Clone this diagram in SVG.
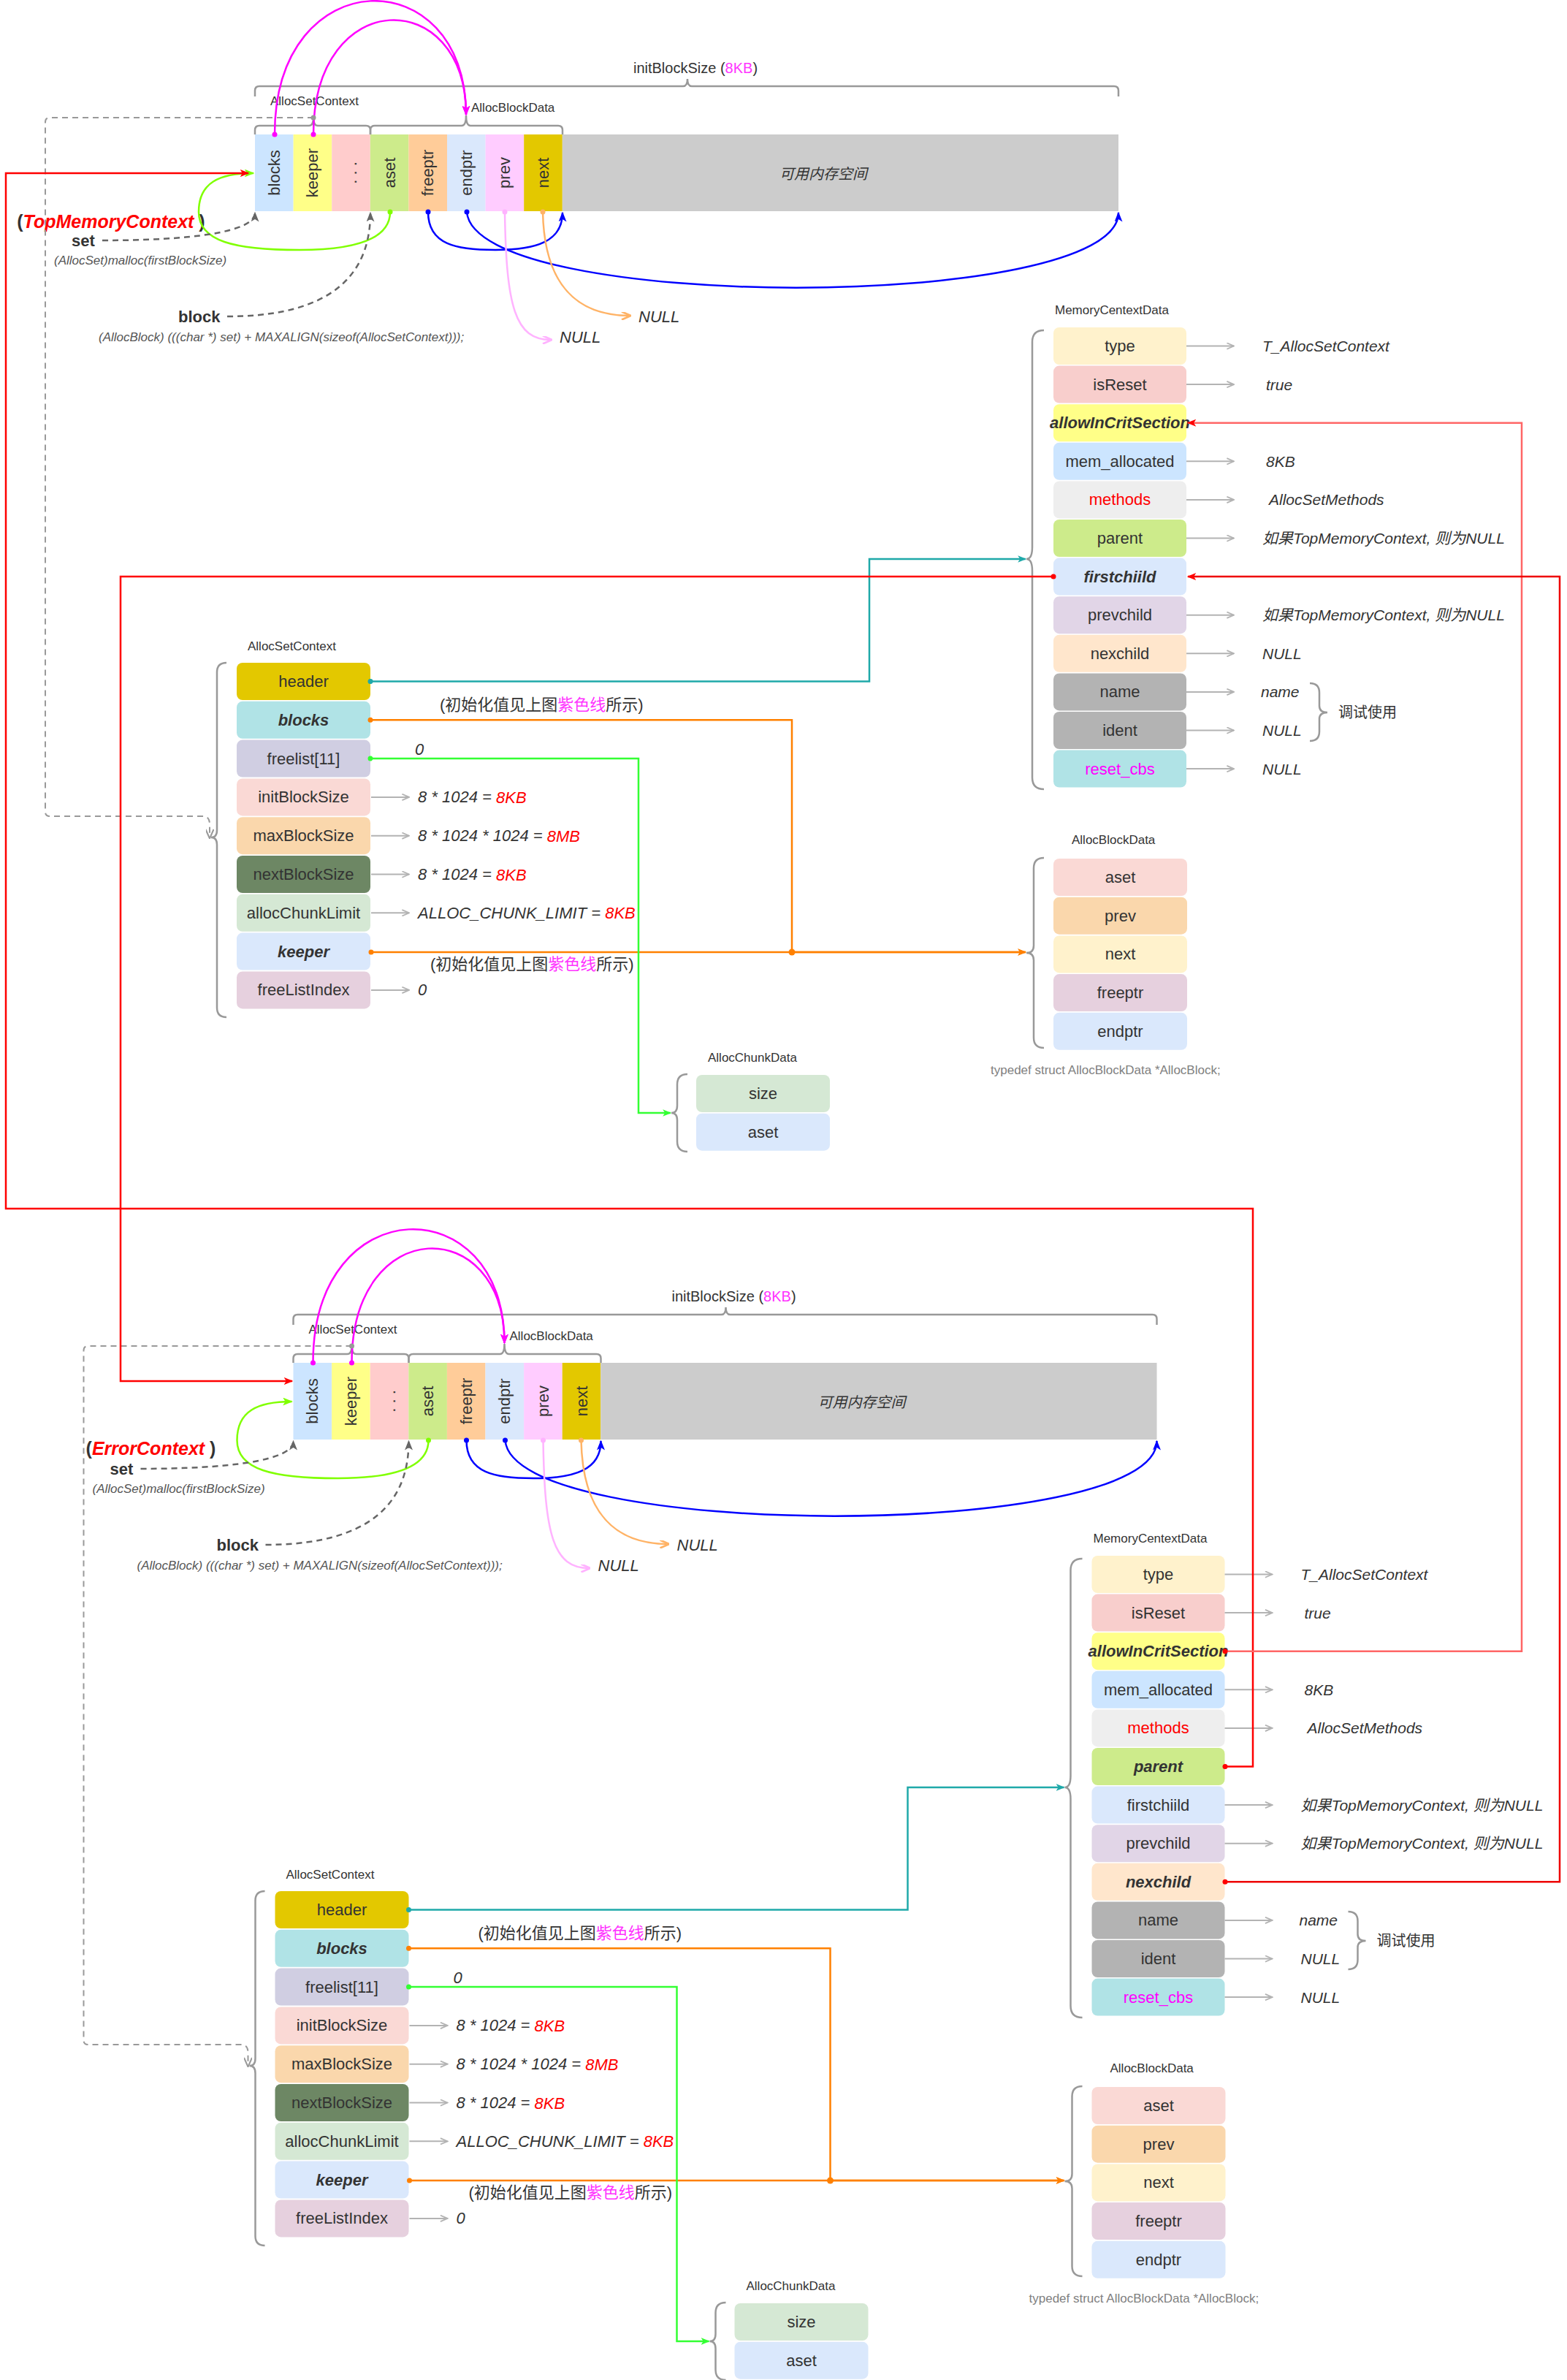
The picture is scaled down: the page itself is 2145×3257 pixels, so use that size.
<svg xmlns="http://www.w3.org/2000/svg" width="2145" height="3257" viewBox="0 0 2145 3257">
<style>
text{font-family:"Liberation Sans","Noto Sans CJK SC",sans-serif;fill:#333}
.c{font-size:22px;text-anchor:middle;dominant-baseline:central}
.bi{font-weight:bold;font-style:italic}
.lb{font-size:17px;dominant-baseline:central}
.v{font-size:21px;font-style:italic;dominant-baseline:central}
.cn{font-size:22px;dominant-baseline:central}
.br{fill:none;stroke:#999;stroke-width:2.5}
.ga{fill:none;stroke:#b3b3b3;stroke-width:2;marker-end:url(#aOpen)}
.ln{fill:none;stroke-width:2.5}
.dash{fill:none;stroke:#666;stroke-width:2.5;stroke-dasharray:8 6}
.rd{fill:#ff0000}
.mg{fill:#ff33ff}
</style>
<defs>
<marker id="aRed" viewBox="0 0 10 8" refX="9" refY="4" markerWidth="13" markerHeight="10" markerUnits="userSpaceOnUse" orient="auto"><path d="M0,0 L10,4 L0,8 L2.5,4 z" fill="#ff0000"/></marker>
<marker id="aLime" viewBox="0 0 10 8" refX="9" refY="4" markerWidth="14" markerHeight="11" markerUnits="userSpaceOnUse" orient="auto"><path d="M0,0 L10,4 L0,8 L2.5,4 z" fill="#80ff00"/></marker>
<marker id="aGreen" viewBox="0 0 10 8" refX="9" refY="4" markerWidth="12" markerHeight="10" markerUnits="userSpaceOnUse" orient="auto"><path d="M0,0 L10,4 L0,8 L2.5,4 z" fill="#33ff33"/></marker>
<marker id="aTeal" viewBox="0 0 10 8" refX="9" refY="4" markerWidth="12" markerHeight="10" markerUnits="userSpaceOnUse" orient="auto"><path d="M0,0 L10,4 L0,8 L2.5,4 z" fill="#1fa9a9"/></marker>
<marker id="aOrange" viewBox="0 0 10 8" refX="9" refY="4" markerWidth="12" markerHeight="10" markerUnits="userSpaceOnUse" orient="auto"><path d="M0,0 L10,4 L0,8 L2.5,4 z" fill="#ff8000"/></marker>
<marker id="aBlue" viewBox="0 0 10 8" refX="9" refY="4" markerWidth="14" markerHeight="11" markerUnits="userSpaceOnUse" orient="auto"><path d="M0,0 L10,4 L0,8 L2.5,4 z" fill="#0000ff"/></marker>
<marker id="aMag" viewBox="0 0 10 8" refX="9" refY="4" markerWidth="14" markerHeight="11" markerUnits="userSpaceOnUse" orient="auto"><path d="M0,0 L10,4 L0,8 L2.5,4 z" fill="#ff00ff"/></marker>
<marker id="aPink" viewBox="0 0 10 8" refX="9" refY="4" markerWidth="14" markerHeight="11" markerUnits="userSpaceOnUse" orient="auto"><path d="M1,0 L10,4 L1,8" fill="none" stroke="#ffb3ff" stroke-width="2"/></marker>
<marker id="aLOrange" viewBox="0 0 10 8" refX="9" refY="4" markerWidth="14" markerHeight="11" markerUnits="userSpaceOnUse" orient="auto"><path d="M1,0 L10,4 L1,8" fill="none" stroke="#ffb366" stroke-width="2"/></marker>
<marker id="aGray" viewBox="0 0 10 8" refX="9" refY="4" markerWidth="14" markerHeight="11" markerUnits="userSpaceOnUse" orient="auto"><path d="M0,0 L10,4 L0,8 L2.5,4 z" fill="#666"/></marker>
<marker id="aGrayO" viewBox="0 0 10 8" refX="9" refY="4" markerWidth="14" markerHeight="11" markerUnits="userSpaceOnUse" orient="auto"><path d="M1,0 L10,4 L1,8" fill="none" stroke="#999" stroke-width="1.5"/></marker>
<marker id="aOpen" viewBox="0 0 10 8" refX="9" refY="4" markerWidth="12" markerHeight="10" markerUnits="userSpaceOnUse" orient="auto"><path d="M1,0.5 L9,4 L1,7.5" fill="none" stroke="#b3b3b3" stroke-width="1.5"/></marker>
<marker id="dRed" viewBox="0 0 8 8" refX="4" refY="4" markerWidth="8" markerHeight="8" markerUnits="userSpaceOnUse"><circle cx="4" cy="4" r="3.5" fill="#ff0000"/></marker>
<marker id="dTeal" viewBox="0 0 8 8" refX="4" refY="4" markerWidth="8" markerHeight="8" markerUnits="userSpaceOnUse"><circle cx="4" cy="4" r="3.5" fill="#1fa9a9"/></marker>
<marker id="dOrange" viewBox="0 0 8 8" refX="4" refY="4" markerWidth="8" markerHeight="8" markerUnits="userSpaceOnUse"><circle cx="4" cy="4" r="3.5" fill="#ff8000"/></marker>
<marker id="dGreen" viewBox="0 0 8 8" refX="4" refY="4" markerWidth="8" markerHeight="8" markerUnits="userSpaceOnUse"><circle cx="4" cy="4" r="3.5" fill="#33ff33"/></marker>
<marker id="dLime" viewBox="0 0 8 8" refX="4" refY="4" markerWidth="8" markerHeight="8" markerUnits="userSpaceOnUse"><circle cx="4" cy="4" r="3.5" fill="#80ff00"/></marker>
<marker id="dBlue" viewBox="0 0 8 8" refX="4" refY="4" markerWidth="8" markerHeight="8" markerUnits="userSpaceOnUse"><circle cx="4" cy="4" r="3.5" fill="#0000ff"/></marker>
<marker id="dMag" viewBox="0 0 8 8" refX="4" refY="4" markerWidth="8" markerHeight="8" markerUnits="userSpaceOnUse"><circle cx="4" cy="4" r="3.5" fill="#ff00ff"/></marker>
<marker id="dPink" viewBox="0 0 8 8" refX="4" refY="4" markerWidth="8" markerHeight="8" markerUnits="userSpaceOnUse"><circle cx="4" cy="4" r="3.5" fill="#ffb3ff"/></marker>
<marker id="dLOrange" viewBox="0 0 8 8" refX="4" refY="4" markerWidth="8" markerHeight="8" markerUnits="userSpaceOnUse"><circle cx="4" cy="4" r="3.5" fill="#ffb366"/></marker>
<marker id="dGray" viewBox="0 0 8 8" refX="4" refY="4" markerWidth="8" markerHeight="8" markerUnits="userSpaceOnUse"><circle cx="4" cy="4" r="3.5" fill="#999"/></marker>
</defs>

<!-- ================= TOP: TopMemoryContext ================= -->
<g id="top">
<g id="top-labels">
<text x="152" y="303" style="font-size:25px;font-weight:bold;dominant-baseline:central;text-anchor:middle">(<tspan class="rd" font-style="italic">TopMemoryContext</tspan> )</text>
<text x="98" y="329" style="font-size:22px;font-weight:bold;dominant-baseline:central">set</text>
<text x="74" y="356" style="font-size:17px;font-style:italic;fill:#555;dominant-baseline:central">(AllocSet)malloc(firstBlockSize)</text>
<text x="244" y="433" style="font-size:22px;font-weight:bold;dominant-baseline:central">block</text>
<text x="135" y="461" style="font-size:17px;font-style:italic;fill:#555;dominant-baseline:central">(AllocBlock) (((char *) set) + MAXALIGN(sizeof(AllocSetContext)));</text>
<text x="874" y="433" class="v" style="font-size:22px">NULL</text>
<text x="766" y="461" class="v" style="font-size:22px">NULL</text>
</g>
<g id="top-braces">
<path class="br" d="M349 132 L349 124 Q349 118 355 118 L935 118 Q941 118 941 108 Q941 118 947 118 L1525 118 Q1531 118 1531 124 L1531 132"/>
<text x="952" y="93" style="font-size:20px;text-anchor:middle;dominant-baseline:central">initBlockSize (<tspan class="mg">8KB</tspan>)</text>
<path class="br" d="M349 184 L349 178 Q349 172 355 172 L423 172 Q429 172 429 161 Q429 172 435 172 L501 172 Q507 172 507 178 L507 184"/>
<text x="370" y="138" class="lb">AllocSetContext</text>
<path class="br" d="M507 184 L507 178 Q507 172 513 172 L632 172 Q638 172 638 158 Q638 172 644 172 L764 172 Q770 172 770 178 L770 184"/>
<text x="645" y="147" class="lb">AllocBlockData</text>
</g>
<g id="top-cell-blocks"><rect x="349" y="184" width="52.6" height="105" fill="#cce5ff"/><text class="c" transform="translate(375.3 236.5) rotate(-90)">blocks</text></g>
<g id="top-cell-keeper"><rect x="401.6" y="184" width="52.6" height="105" fill="#ffff88"/><text class="c" transform="translate(427.9 236.5) rotate(-90)">keeper</text></g>
<g id="top-cell-dots"><rect x="454.2" y="184" width="52.6" height="105" fill="#ffcccc"/><text class="c" transform="translate(480.5 236.5) rotate(-90)">. . .</text></g>
<g id="top-cell-aset"><rect x="506.8" y="184" width="52.6" height="105" fill="#cdeb8b"/><text class="c" transform="translate(533.1 236.5) rotate(-90)">aset</text></g>
<g id="top-cell-freeptr"><rect x="559.4" y="184" width="52.6" height="105" fill="#ffcc99"/><text class="c" transform="translate(585.7 236.5) rotate(-90)">freeptr</text></g>
<g id="top-cell-endptr"><rect x="612" y="184" width="52.6" height="105" fill="#dae8fc"/><text class="c" transform="translate(638.3 236.5) rotate(-90)">endptr</text></g>
<g id="top-cell-prev"><rect x="664.6" y="184" width="52.6" height="105" fill="#ffccff"/><text class="c" transform="translate(690.9 236.5) rotate(-90)">prev</text></g>
<g id="top-cell-next"><rect x="717.2" y="184" width="52.6" height="105" fill="#e3c800"/><text class="c" transform="translate(743.5 236.5) rotate(-90)">next</text></g>
<g id="top-cell-free"><rect x="769.8" y="184" width="761.2" height="105" fill="#cccccc"/><text x="1127" y="238" style="font-size:20px;font-style:italic;text-anchor:middle;dominant-baseline:central">可用内存空间</text></g>

<g id="top-mcd">
<text x="1444" y="424" class="lb">MemoryCentextData</text>
<path class="br" d="M1429 452 Q1413 452 1413 468 L1413 749 Q1413 765 1405 765 Q1413 765 1413 781 L1413 1064 Q1413 1080 1429 1080"/>
<g id="top-mcd-type"><rect x="1442" y="448" width="182" height="51" rx="8" fill="#fff2cc"/><text x="1533" y="473.5" class="c">type</text></g>
<g id="top-mcd-isReset"><rect x="1442" y="500.6" width="182" height="51" rx="8" fill="#f8cecc"/><text x="1533" y="526.1" class="c">isReset</text></g>
<g id="top-mcd-allow"><rect x="1442" y="553.2" width="182" height="51" rx="8" fill="#ffff88"/><text x="1533" y="578.7" class="c bi">allowInCritSection</text></g>
<g id="top-mcd-mem"><rect x="1442" y="605.8" width="182" height="51" rx="8" fill="#cce5ff"/><text x="1533" y="631.3" class="c">mem_allocated</text></g>
<g id="top-mcd-methods"><rect x="1442" y="658.4" width="182" height="51" rx="8" fill="#eeeeee"/><text x="1533" y="683.9" class="c rd">methods</text></g>
<g id="top-mcd-parent"><rect x="1442" y="711" width="182" height="51" rx="8" fill="#cdeb8b"/><text x="1533" y="736.5" class="c">parent</text></g>
<g id="top-mcd-firstchild"><rect x="1442" y="763.6" width="182" height="51" rx="8" fill="#dae8fc"/><text x="1533" y="789.1" class="c bi">firstchiild</text></g>
<g id="top-mcd-prevchild"><rect x="1442" y="816.2" width="182" height="51" rx="8" fill="#e1d5e7"/><text x="1533" y="841.7" class="c">prevchild</text></g>
<g id="top-mcd-nexchild"><rect x="1442" y="868.8" width="182" height="51" rx="8" fill="#ffe6cc"/><text x="1533" y="894.3" class="c">nexchild</text></g>
<g id="top-mcd-name"><rect x="1442" y="921.4" width="182" height="51" rx="8" fill="#b3b3b3"/><text x="1533" y="946.9" class="c">name</text></g>
<g id="top-mcd-ident"><rect x="1442" y="974" width="182" height="51" rx="8" fill="#b3b3b3"/><text x="1533" y="999.5" class="c">ident</text></g>
<g id="top-mcd-reset"><rect x="1442" y="1026.6" width="182" height="51" rx="8" fill="#b0e3e6"/><text x="1533" y="1052.1" class="c" style="fill:#ff00ff">reset_cbs</text></g>
<g id="top-mcd-values">
<text x="1728" y="473.5" class="v">T_AllocSetContext</text>
<text x="1733" y="526.1" class="v">true</text>
<text x="1733" y="631.3" class="v">8KB</text>
<text x="1737" y="683.9" class="v">AllocSetMethods</text>
<text x="1728" y="736.5" class="v">如果TopMemoryContext, 则为NULL</text>
<text x="1728" y="841.7" class="v">如果TopMemoryContext, 则为NULL</text>
<text x="1728" y="894.3" class="v">NULL</text>
<text x="1726" y="946.9" class="v">name</text>
<text x="1728" y="999.5" class="v">NULL</text>
<text x="1728" y="1052.1" class="v">NULL</text>
<path class="br" d="M1793 935 Q1806 935 1806 948 L1806 966 Q1806 975 1817 975 Q1806 975 1806 984 L1806 1001 Q1806 1014 1793 1014"/>
<text x="1832" y="975" class="cn" style="font-size:20px">调试使用</text>
</g>
</g>

<g id="top-asc">
<text x="339" y="884" class="lb">AllocSetContext</text>
<path class="br" d="M310 907 Q297 907 297 920 L297 1136 Q297 1146 289 1146 Q297 1146 297 1156 L297 1379 Q297 1392 310 1392"/>
<g id="top-asc-header"><rect x="324" y="907" width="183" height="51" rx="8" fill="#e3c800"/><text x="415.5" y="932.5" class="c">header</text></g>
<g id="top-asc-blocks"><rect x="324" y="959.8" width="183" height="51" rx="8" fill="#b0e3e6"/><text x="415.5" y="985.3" class="c bi">blocks</text></g>
<g id="top-asc-freelist"><rect x="324" y="1012.6" width="183" height="51" rx="8" fill="#d0cee2"/><text x="415.5" y="1038.1" class="c">freelist[11]</text></g>
<g id="top-asc-init"><rect x="324" y="1065.4" width="183" height="51" rx="8" fill="#fad9d5"/><text x="415.5" y="1090.9" class="c">initBlockSize</text></g>
<g id="top-asc-max"><rect x="324" y="1118.2" width="183" height="51" rx="8" fill="#fad7ac"/><text x="415.5" y="1143.7" class="c">maxBlockSize</text></g>
<g id="top-asc-next"><rect x="324" y="1171" width="183" height="51" rx="8" fill="#6d8764"/><text x="415.5" y="1196.5" class="c">nextBlockSize</text></g>
<g id="top-asc-chunk"><rect x="324" y="1223.8" width="183" height="51" rx="8" fill="#d5e8d4"/><text x="415.5" y="1249.3" class="c">allocChunkLimit</text></g>
<g id="top-asc-keeper"><rect x="324" y="1276.6" width="183" height="51" rx="8" fill="#dae8fc"/><text x="415.5" y="1302.1" class="c bi">keeper</text></g>
<g id="top-asc-fli"><rect x="324" y="1329.4" width="183" height="51" rx="8" fill="#e6d0de"/><text x="415.5" y="1354.9" class="c">freeListIndex</text></g>
<g id="top-asc-values">
<text x="602" y="964" class="cn">(初始化值见上图<tspan class="mg">紫色线</tspan>所示)</text>
<text x="568" y="1025" class="v" style="font-size:22px">0</text>
<text x="572" y="1090.9" class="v" style="font-size:22px">8 * 1024 = <tspan class="rd">8KB</tspan></text>
<text x="572" y="1143.7" class="v" style="font-size:22px">8 * 1024 * 1024 = <tspan class="rd">8MB</tspan></text>
<text x="572" y="1196.5" class="v" style="font-size:22px">8 * 1024 = <tspan class="rd">8KB</tspan></text>
<text x="572" y="1249.3" class="v" style="font-size:22px">ALLOC_CHUNK_LIMIT = <tspan class="rd">8KB</tspan></text>
<text x="589" y="1319" class="cn">(初始化值见上图<tspan class="mg">紫色线</tspan>所示)</text>
<text x="572" y="1354.9" class="v" style="font-size:22px">0</text>
</g>
</g>

<g id="top-abd">
<text x="1467" y="1149" class="lb">AllocBlockData</text>
<path class="br" d="M1429 1174 Q1415 1174 1415 1188 L1415 1294 Q1415 1304 1405 1304 Q1415 1304 1415 1314 L1415 1420 Q1415 1434 1429 1434"/>
<g id="top-abd-aset"><rect x="1442" y="1175" width="183" height="51" rx="8" fill="#fad9d5"/><text x="1533.5" y="1200.5" class="c">aset</text></g>
<g id="top-abd-prev"><rect x="1442" y="1227.7" width="183" height="51" rx="8" fill="#fad7ac"/><text x="1533.5" y="1253.2" class="c">prev</text></g>
<g id="top-abd-next"><rect x="1442" y="1280.4" width="183" height="51" rx="8" fill="#fff2cc"/><text x="1533.5" y="1305.9" class="c">next</text></g>
<g id="top-abd-freeptr"><rect x="1442" y="1333.1" width="183" height="51" rx="8" fill="#e6d0de"/><text x="1533.5" y="1358.6" class="c">freeptr</text></g>
<g id="top-abd-endptr"><rect x="1442" y="1385.8" width="183" height="51" rx="8" fill="#dae8fc"/><text x="1533.5" y="1411.3" class="c">endptr</text></g>
<text x="1356" y="1464" class="lb" style="fill:#808080">typedef struct AllocBlockData *AllocBlock;</text>
</g>

<g id="top-acd">
<text x="969" y="1447" class="lb">AllocChunkData</text>
<path class="br" d="M941 1470 Q927 1470 927 1484 L927 1513 Q927 1523 919 1523 Q927 1523 927 1533 L927 1562 Q927 1576 941 1576"/>
<g id="top-acd-size"><rect x="953" y="1471" width="183" height="51" rx="8" fill="#d5e8d4"/><text x="1044.5" y="1496.5" class="c">size</text></g>
<g id="top-acd-aset"><rect x="953" y="1523.7" width="183" height="51" rx="8" fill="#dae8fc"/><text x="1044.5" y="1549.2" class="c">aset</text></g>
</g>
</g>

<g id="connectors-top">
<path class="ln" stroke="#ff00ff" d="M376 184 C376 -55 638 -55 638 157" marker-start="url(#dMag)" marker-end="url(#aMag)"/>
<path class="ln" stroke="#ff00ff" d="M429 184 C429 -20 638 -20 638 157" marker-start="url(#dMag)" marker-end="url(#aMag)"/>
<path class="ln" stroke="#80ff00" d="M534 290 C534 330 480 342 410 342 C320 342 272 330 272 290 C272 250 300 237 347 237" marker-start="url(#dLime)" marker-end="url(#aLime)"/>
<path class="ln" stroke="#0000ff" d="M586 290 C586 335 625 342 678 342 C735 342 770 330 770 291" marker-start="url(#dBlue)" marker-end="url(#aBlue)"/>
<path class="ln" stroke="#0000ff" d="M639 290 C650 428 1531 428 1531 291" marker-start="url(#dBlue)" marker-end="url(#aBlue)"/>
<path class="ln" stroke="#ffb3ff" d="M691 290 C693 420 705 465 754 465" marker-start="url(#dPink)" marker-end="url(#aPink)"/>
<path class="ln" stroke="#ffb366" d="M743 290 C745 390 790 432 862 432" marker-start="url(#dLOrange)" marker-end="url(#aLOrange)"/>
<path class="dash" d="M140 329 C260 329 349 318 349 291" marker-end="url(#aGray)"/>
<path class="dash" d="M311 433 C420 433 507 400 507 291" marker-end="url(#aGray)"/>
<path class="dash" style="stroke:#999;stroke-width:2" d="M429 161 L68 161 Q62 161 62 167 L62 1111 Q62 1117 68 1117 L278 1117 Q287 1117 287 1128 L287 1146" marker-start="url(#dGray)" marker-end="url(#aGrayO)"/>
<path class="ln" stroke="#1fa9a9" stroke-width="2" d="M507 932.5 L1190 932.5 L1190 765 L1404 765" marker-start="url(#dTeal)" marker-end="url(#aTeal)"/>
<path class="ln" stroke="#ff8000" stroke-width="2" d="M507 985.3 L1084 985.3 L1084 1303 L1404 1303" marker-start="url(#dOrange)" marker-end="url(#aOrange)"/>
<path class="ln" stroke="#ff8000" stroke-width="2" d="M508 1303 L1404 1303" marker-start="url(#dOrange)" marker-end="url(#aOrange)"/>
<circle cx="1084" cy="1303" r="4.5" fill="#ff8000"/>
<path class="ln" stroke="#33ff33" stroke-width="2" d="M507 1038.1 L874 1038.1 L874 1523 L918 1523" marker-start="url(#dGreen)" marker-end="url(#aGreen)"/>
<path class="ga" d="M1624 473.5 L1689 473.5"/>
<path class="ga" d="M1624 526.1 L1689 526.1"/>
<path class="ga" d="M1624 631.3 L1689 631.3"/>
<path class="ga" d="M1624 683.9 L1689 683.9"/>
<path class="ga" d="M1624 736.5 L1689 736.5"/>
<path class="ga" d="M1624 841.7 L1689 841.7"/>
<path class="ga" d="M1624 894.3 L1689 894.3"/>
<path class="ga" d="M1624 946.9 L1689 946.9"/>
<path class="ga" d="M1624 999.5 L1689 999.5"/>
<path class="ga" d="M1624 1052.1 L1689 1052.1"/>
<path class="ga" d="M508 1090.9 L560 1090.9"/>
<path class="ga" d="M508 1143.7 L560 1143.7"/>
<path class="ga" d="M508 1196.5 L560 1196.5"/>
<path class="ga" d="M508 1249.3 L560 1249.3"/>
<path class="ga" d="M508 1354.9 L560 1354.9"/>
</g>

<!-- ================= BOTTOM: ErrorContext ================= -->
<g id="bottom" transform="translate(52.5 1681)">
<g id="bot-labels">
<text x="154" y="301" style="font-size:25px;font-weight:bold;dominant-baseline:central;text-anchor:middle">(<tspan class="rd" font-style="italic">ErrorContext</tspan> )</text>
<text x="98" y="329" style="font-size:22px;font-weight:bold;dominant-baseline:central">set</text>
<text x="74" y="356" style="font-size:17px;font-style:italic;fill:#555;dominant-baseline:central">(AllocSet)malloc(firstBlockSize)</text>
<text x="244" y="433" style="font-size:22px;font-weight:bold;dominant-baseline:central">block</text>
<text x="135" y="461" style="font-size:17px;font-style:italic;fill:#555;dominant-baseline:central">(AllocBlock) (((char *) set) + MAXALIGN(sizeof(AllocSetContext)));</text>
<text x="874" y="433" class="v" style="font-size:22px">NULL</text>
<text x="766" y="461" class="v" style="font-size:22px">NULL</text>
</g>
<g id="bot-braces">
<path class="br" d="M349 132 L349 124 Q349 118 355 118 L935 118 Q941 118 941 108 Q941 118 947 118 L1525 118 Q1531 118 1531 124 L1531 132"/>
<text x="952" y="93" style="font-size:20px;text-anchor:middle;dominant-baseline:central">initBlockSize (<tspan class="mg">8KB</tspan>)</text>
<path class="br" d="M349 184 L349 178 Q349 172 355 172 L423 172 Q429 172 429 161 Q429 172 435 172 L501 172 Q507 172 507 178 L507 184"/>
<text x="370" y="138" class="lb">AllocSetContext</text>
<path class="br" d="M507 184 L507 178 Q507 172 513 172 L632 172 Q638 172 638 158 Q638 172 644 172 L764 172 Q770 172 770 178 L770 184"/>
<text x="645" y="147" class="lb">AllocBlockData</text>
</g>
<g id="bot-cell-blocks"><rect x="349" y="184" width="52.6" height="105" fill="#cce5ff"/><text class="c" transform="translate(375.3 236.5) rotate(-90)">blocks</text></g>
<g id="bot-cell-keeper"><rect x="401.6" y="184" width="52.6" height="105" fill="#ffff88"/><text class="c" transform="translate(427.9 236.5) rotate(-90)">keeper</text></g>
<g id="bot-cell-dots"><rect x="454.2" y="184" width="52.6" height="105" fill="#ffcccc"/><text class="c" transform="translate(480.5 236.5) rotate(-90)">. . .</text></g>
<g id="bot-cell-aset"><rect x="506.8" y="184" width="52.6" height="105" fill="#cdeb8b"/><text class="c" transform="translate(533.1 236.5) rotate(-90)">aset</text></g>
<g id="bot-cell-freeptr"><rect x="559.4" y="184" width="52.6" height="105" fill="#ffcc99"/><text class="c" transform="translate(585.7 236.5) rotate(-90)">freeptr</text></g>
<g id="bot-cell-endptr"><rect x="612" y="184" width="52.6" height="105" fill="#dae8fc"/><text class="c" transform="translate(638.3 236.5) rotate(-90)">endptr</text></g>
<g id="bot-cell-prev"><rect x="664.6" y="184" width="52.6" height="105" fill="#ffccff"/><text class="c" transform="translate(690.9 236.5) rotate(-90)">prev</text></g>
<g id="bot-cell-next"><rect x="717.2" y="184" width="52.6" height="105" fill="#e3c800"/><text class="c" transform="translate(743.5 236.5) rotate(-90)">next</text></g>
<g id="bot-cell-free"><rect x="769.8" y="184" width="761.2" height="105" fill="#cccccc"/><text x="1127" y="238" style="font-size:20px;font-style:italic;text-anchor:middle;dominant-baseline:central">可用内存空间</text></g>

<g id="bot-mcd">
<text x="1444" y="424" class="lb">MemoryCentextData</text>
<path class="br" d="M1429 452 Q1413 452 1413 468 L1413 749 Q1413 765 1405 765 Q1413 765 1413 781 L1413 1064 Q1413 1080 1429 1080"/>
<g id="bot-mcd-type"><rect x="1442" y="448" width="182" height="51" rx="8" fill="#fff2cc"/><text x="1533" y="473.5" class="c">type</text></g>
<g id="bot-mcd-isReset"><rect x="1442" y="500.6" width="182" height="51" rx="8" fill="#f8cecc"/><text x="1533" y="526.1" class="c">isReset</text></g>
<g id="bot-mcd-allow"><rect x="1442" y="553.2" width="182" height="51" rx="8" fill="#ffff88"/><text x="1533" y="578.7" class="c bi">allowInCritSection</text></g>
<g id="bot-mcd-mem"><rect x="1442" y="605.8" width="182" height="51" rx="8" fill="#cce5ff"/><text x="1533" y="631.3" class="c">mem_allocated</text></g>
<g id="bot-mcd-methods"><rect x="1442" y="658.4" width="182" height="51" rx="8" fill="#eeeeee"/><text x="1533" y="683.9" class="c rd">methods</text></g>
<g id="bot-mcd-parent"><rect x="1442" y="711" width="182" height="51" rx="8" fill="#cdeb8b"/><text x="1533" y="736.5" class="c bi">parent</text></g>
<g id="bot-mcd-firstchild"><rect x="1442" y="763.6" width="182" height="51" rx="8" fill="#dae8fc"/><text x="1533" y="789.1" class="c">firstchiild</text></g>
<g id="bot-mcd-prevchild"><rect x="1442" y="816.2" width="182" height="51" rx="8" fill="#e1d5e7"/><text x="1533" y="841.7" class="c">prevchild</text></g>
<g id="bot-mcd-nexchild"><rect x="1442" y="868.8" width="182" height="51" rx="8" fill="#ffe6cc"/><text x="1533" y="894.3" class="c bi">nexchild</text></g>
<g id="bot-mcd-name"><rect x="1442" y="921.4" width="182" height="51" rx="8" fill="#b3b3b3"/><text x="1533" y="946.9" class="c">name</text></g>
<g id="bot-mcd-ident"><rect x="1442" y="974" width="182" height="51" rx="8" fill="#b3b3b3"/><text x="1533" y="999.5" class="c">ident</text></g>
<g id="bot-mcd-reset"><rect x="1442" y="1026.6" width="182" height="51" rx="8" fill="#b0e3e6"/><text x="1533" y="1052.1" class="c" style="fill:#ff00ff">reset_cbs</text></g>
<g id="bot-mcd-values">
<text x="1728" y="473.5" class="v">T_AllocSetContext</text>
<text x="1733" y="526.1" class="v">true</text>
<text x="1733" y="631.3" class="v">8KB</text>
<text x="1737" y="683.9" class="v">AllocSetMethods</text>
<text x="1728" y="789.1" class="v">如果TopMemoryContext, 则为NULL</text>
<text x="1728" y="841.7" class="v">如果TopMemoryContext, 则为NULL</text>
<text x="1726" y="946.9" class="v">name</text>
<text x="1728" y="999.5" class="v">NULL</text>
<text x="1728" y="1052.1" class="v">NULL</text>
<path class="br" d="M1793 935 Q1806 935 1806 948 L1806 966 Q1806 975 1817 975 Q1806 975 1806 984 L1806 1001 Q1806 1014 1793 1014"/>
<text x="1832" y="975" class="cn" style="font-size:20px">调试使用</text>
</g>
</g>

<g id="bot-asc">
<text x="339" y="884" class="lb">AllocSetContext</text>
<path class="br" d="M310 907 Q297 907 297 920 L297 1136 Q297 1146 289 1146 Q297 1146 297 1156 L297 1379 Q297 1392 310 1392"/>
<g id="bot-asc-header"><rect x="324" y="907" width="183" height="51" rx="8" fill="#e3c800"/><text x="415.5" y="932.5" class="c">header</text></g>
<g id="bot-asc-blocks"><rect x="324" y="959.8" width="183" height="51" rx="8" fill="#b0e3e6"/><text x="415.5" y="985.3" class="c bi">blocks</text></g>
<g id="bot-asc-freelist"><rect x="324" y="1012.6" width="183" height="51" rx="8" fill="#d0cee2"/><text x="415.5" y="1038.1" class="c">freelist[11]</text></g>
<g id="bot-asc-init"><rect x="324" y="1065.4" width="183" height="51" rx="8" fill="#fad9d5"/><text x="415.5" y="1090.9" class="c">initBlockSize</text></g>
<g id="bot-asc-max"><rect x="324" y="1118.2" width="183" height="51" rx="8" fill="#fad7ac"/><text x="415.5" y="1143.7" class="c">maxBlockSize</text></g>
<g id="bot-asc-next"><rect x="324" y="1171" width="183" height="51" rx="8" fill="#6d8764"/><text x="415.5" y="1196.5" class="c">nextBlockSize</text></g>
<g id="bot-asc-chunk"><rect x="324" y="1223.8" width="183" height="51" rx="8" fill="#d5e8d4"/><text x="415.5" y="1249.3" class="c">allocChunkLimit</text></g>
<g id="bot-asc-keeper"><rect x="324" y="1276.6" width="183" height="51" rx="8" fill="#dae8fc"/><text x="415.5" y="1302.1" class="c bi">keeper</text></g>
<g id="bot-asc-fli"><rect x="324" y="1329.4" width="183" height="51" rx="8" fill="#e6d0de"/><text x="415.5" y="1354.9" class="c">freeListIndex</text></g>
<g id="bot-asc-values">
<text x="602" y="964" class="cn">(初始化值见上图<tspan class="mg">紫色线</tspan>所示)</text>
<text x="568" y="1025" class="v" style="font-size:22px">0</text>
<text x="572" y="1090.9" class="v" style="font-size:22px">8 * 1024 = <tspan class="rd">8KB</tspan></text>
<text x="572" y="1143.7" class="v" style="font-size:22px">8 * 1024 * 1024 = <tspan class="rd">8MB</tspan></text>
<text x="572" y="1196.5" class="v" style="font-size:22px">8 * 1024 = <tspan class="rd">8KB</tspan></text>
<text x="572" y="1249.3" class="v" style="font-size:22px">ALLOC_CHUNK_LIMIT = <tspan class="rd">8KB</tspan></text>
<text x="589" y="1319" class="cn">(初始化值见上图<tspan class="mg">紫色线</tspan>所示)</text>
<text x="572" y="1354.9" class="v" style="font-size:22px">0</text>
</g>
</g>

<g id="bot-abd">
<text x="1467" y="1149" class="lb">AllocBlockData</text>
<path class="br" d="M1429 1174 Q1415 1174 1415 1188 L1415 1294 Q1415 1304 1405 1304 Q1415 1304 1415 1314 L1415 1420 Q1415 1434 1429 1434"/>
<g id="bot-abd-aset"><rect x="1442" y="1175" width="183" height="51" rx="8" fill="#fad9d5"/><text x="1533.5" y="1200.5" class="c">aset</text></g>
<g id="bot-abd-prev"><rect x="1442" y="1227.7" width="183" height="51" rx="8" fill="#fad7ac"/><text x="1533.5" y="1253.2" class="c">prev</text></g>
<g id="bot-abd-next"><rect x="1442" y="1280.4" width="183" height="51" rx="8" fill="#fff2cc"/><text x="1533.5" y="1305.9" class="c">next</text></g>
<g id="bot-abd-freeptr"><rect x="1442" y="1333.1" width="183" height="51" rx="8" fill="#e6d0de"/><text x="1533.5" y="1358.6" class="c">freeptr</text></g>
<g id="bot-abd-endptr"><rect x="1442" y="1385.8" width="183" height="51" rx="8" fill="#dae8fc"/><text x="1533.5" y="1411.3" class="c">endptr</text></g>
<text x="1356" y="1464" class="lb" style="fill:#808080">typedef struct AllocBlockData *AllocBlock;</text>
</g>

<g id="bot-acd">
<text x="969" y="1447" class="lb">AllocChunkData</text>
<path class="br" d="M941 1470 Q927 1470 927 1484 L927 1513 Q927 1523 919 1523 Q927 1523 927 1533 L927 1562 Q927 1576 941 1576"/>
<g id="bot-acd-size"><rect x="953" y="1471" width="183" height="51" rx="8" fill="#d5e8d4"/><text x="1044.5" y="1496.5" class="c">size</text></g>
<g id="bot-acd-aset"><rect x="953" y="1523.7" width="183" height="51" rx="8" fill="#dae8fc"/><text x="1044.5" y="1549.2" class="c">aset</text></g>
</g>
</g>

<g id="connectors-bottom" transform="translate(52.5 1681)">
<path class="ln" stroke="#ff00ff" d="M376 184 C376 -55 638 -55 638 157" marker-start="url(#dMag)" marker-end="url(#aMag)"/>
<path class="ln" stroke="#ff00ff" d="M429 184 C429 -20 638 -20 638 157" marker-start="url(#dMag)" marker-end="url(#aMag)"/>
<path class="ln" stroke="#80ff00" d="M534 290 C534 330 480 342 410 342 C320 342 272 330 272 290 C272 250 300 237 347 237" marker-start="url(#dLime)" marker-end="url(#aLime)"/>
<path class="ln" stroke="#0000ff" d="M586 290 C586 335 625 342 678 342 C735 342 770 330 770 291" marker-start="url(#dBlue)" marker-end="url(#aBlue)"/>
<path class="ln" stroke="#0000ff" d="M639 290 C650 428 1531 428 1531 291" marker-start="url(#dBlue)" marker-end="url(#aBlue)"/>
<path class="ln" stroke="#ffb3ff" d="M691 290 C693 420 705 465 754 465" marker-start="url(#dPink)" marker-end="url(#aPink)"/>
<path class="ln" stroke="#ffb366" d="M743 290 C745 390 790 432 862 432" marker-start="url(#dLOrange)" marker-end="url(#aLOrange)"/>
<path class="dash" d="M140 329 C260 329 349 318 349 291" marker-end="url(#aGray)"/>
<path class="dash" d="M311 433 C420 433 507 400 507 291" marker-end="url(#aGray)"/>
<path class="dash" style="stroke:#999;stroke-width:2" d="M429 161 L68 161 Q62 161 62 167 L62 1111 Q62 1117 68 1117 L278 1117 Q287 1117 287 1128 L287 1146" marker-start="url(#dGray)" marker-end="url(#aGrayO)"/>
<path class="ln" stroke="#1fa9a9" stroke-width="2" d="M507 932.5 L1190 932.5 L1190 765 L1404 765" marker-start="url(#dTeal)" marker-end="url(#aTeal)"/>
<path class="ln" stroke="#ff8000" stroke-width="2" d="M507 985.3 L1084 985.3 L1084 1303 L1404 1303" marker-start="url(#dOrange)" marker-end="url(#aOrange)"/>
<path class="ln" stroke="#ff8000" stroke-width="2" d="M508 1303 L1404 1303" marker-start="url(#dOrange)" marker-end="url(#aOrange)"/>
<circle cx="1084" cy="1303" r="4.5" fill="#ff8000"/>
<path class="ln" stroke="#33ff33" stroke-width="2" d="M507 1038.1 L874 1038.1 L874 1523 L918 1523" marker-start="url(#dGreen)" marker-end="url(#aGreen)"/>
<path class="ga" d="M1624 473.5 L1689 473.5"/>
<path class="ga" d="M1624 526.1 L1689 526.1"/>
<path class="ga" d="M1624 631.3 L1689 631.3"/>
<path class="ga" d="M1624 683.9 L1689 683.9"/>
<path class="ga" d="M1624 789.1 L1689 789.1"/>
<path class="ga" d="M1624 841.7 L1689 841.7"/>
<path class="ga" d="M1624 946.9 L1689 946.9"/>
<path class="ga" d="M1624 999.5 L1689 999.5"/>
<path class="ga" d="M1624 1052.1 L1689 1052.1"/>
<path class="ga" d="M508 1090.9 L560 1090.9"/>
<path class="ga" d="M508 1143.7 L560 1143.7"/>
<path class="ga" d="M508 1196.5 L560 1196.5"/>
<path class="ga" d="M508 1249.3 L560 1249.3"/>
<path class="ga" d="M508 1354.9 L560 1354.9"/>
</g>

<g id="connectors-cross">
<path class="ln" stroke="#ff0000" stroke-width="2" d="M1677 2417.5 L1715 2417.5 L1715 1654 L8 1654 L8 237 L340 237" marker-start="url(#dRed)" marker-end="url(#aRed)"/>
<path class="ln" stroke="#ff0000" stroke-width="1.5" d="M1442 789.1 L165 789.1 L165 1890 L400 1890" marker-start="url(#dRed)" marker-end="url(#aRed)"/>
<path class="ln" stroke="#ff6666" stroke-width="2" d="M1677 2259.7 L2083 2259.7 L2083 578.7 L1626 578.7" marker-start="url(#dRed)" marker-end="url(#aRed)"/>
<path class="ln" stroke="#ee0000" stroke-width="2" d="M1677 2575.3 L2135 2575.3 L2135 789.1 L1626 789.1" marker-start="url(#dRed)" marker-end="url(#aRed)"/>
</g>
</svg>
